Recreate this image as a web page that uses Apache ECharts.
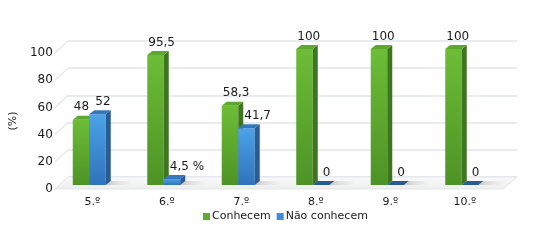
<!DOCTYPE html>
<html>
<head>
<meta charset="utf-8">
<script src="https://cdn.jsdelivr.net/npm/echarts@6/dist/echarts.min.js"></script>
<style>
  html, body { margin: 0; padding: 0; background: #fff; }
  #chart { width: 533px; height: 243px; }
</style>
</head>
<body>
<div id="chart"></div>
<script>
const categories = ["5.º", "6.º", "7.º", "8.º", "9.º", "10.º"];
const conhecem = [48, 95.5, 58.3, 100, 100, 100];
const naoConhecem = [52, 4.5, 41.7, 0, 0, 0];
const conhecemLabels = ["48", "95,5", "58,3", "100", "100", "100"];
const naoLabels = ["52", "4,5 %", "41,7", "0", "0", "0"];
const yTicks = [0, 20, 40, 60, 80, 100];

const FONT = '"DejaVu Sans", Verdana, sans-serif';
const BAR_W = 16.5;
const DX = 5, DY = 4;        // bar depth
const WDX = 13, WDY = 12;    // wall / floor depth

const green = {
    front: ["#6dbd36", "#4d9326"],
    side: "#3e7520",
    top: "#5ea82f",
    legend: "#5cae2c"
};
const blue = {
    front: ["#4ca2e8", "#2f73bb"],
    side: "#2a5c93",
    top: "#3577bd",
    legend: "#3f8edb"
};

function barRenderer(pal, left, labels, labelDx) {
    return function (params, api) {
        const i = api.value(0);
        const v = api.value(1);
        const base = api.coord([i, 0]);
        const top = api.coord([i, v]);
        const x = left ? base[0] - BAR_W : base[0];
        const yb = base[1];
        const yt = top[1];
        const flat = yb - yt <= 0.5;
        const children = [];

        // soft floor shadow
        children.push({
            type: "polygon",
            shape: { points: [[x + 2, yb], [x + BAR_W + DX + 18, yb], [x + BAR_W + DX + 22, yb - DY], [x + DX + 2, yb - DY]] },
            style: {
                fill: new echarts.graphic.LinearGradient(0, 0, 1, 0, [
                    { offset: 0, color: "rgba(110,110,110,0.5)" },
                    { offset: 1, color: "rgba(160,160,160,0)" }
                ])
            },
            z2: 0
        });

        if (!flat) {
            children.push({
                type: "rect",
                shape: { x: x, y: yt, width: BAR_W, height: yb - yt },
                style: {
                    fill: new echarts.graphic.LinearGradient(0, 0, 0, 1, [
                        { offset: 0, color: pal.front[0] },
                        { offset: 1, color: pal.front[1] }
                    ])
                },
                z2: 2
            });
            children.push({
                type: "polygon",
                shape: { points: [[x + BAR_W, yt], [x + BAR_W + DX, yt - DY], [x + BAR_W + DX, yb - DY], [x + BAR_W, yb]] },
                style: { fill: pal.side },
                z2: 2
            });
        }
        children.push({
            type: "polygon",
            shape: { points: [[x, yt], [x + DX, yt - DY], [x + BAR_W + DX, yt - DY], [x + BAR_W, yt]] },
            style: { fill: flat ? pal.side : pal.top },
            z2: 3
        });
        children.push({
            type: "text",
            style: {
                text: labels[params.dataIndex],
                x: x + labelDx + (flat ? 4 : 0),
                y: yt - 12.5,
                fill: "#1a1a1a",
                font: "12px " + FONT,
                align: "left",
                verticalAlign: "middle"
            },
            z2: 4
        });
        return { type: "group", children: children };
    };
}

const chart = echarts.init(document.getElementById("chart"));

chart.setOption({
    backgroundColor: "#fff",
    animation: false,
    textStyle: { fontFamily: FONT },

    grid: [
        { left: 52, right: 34, top: 49, bottom: 58 },   // bars
        { left: 52, right: 34, top: 53, bottom: 54 },   // front axis labels
        { left: 68, right: 16, top: 41, bottom: 66 }    // back wall
    ],

    legend: {
        left: 203,
        top: 211,
        padding: 0,
        itemWidth: 7,
        itemHeight: 7,
        itemGap: 6,
        textStyle: { fontSize: 11, color: "#1a1a1a", fontFamily: FONT, padding: [0, 0, 0, -3] },
        data: [
            { name: "Conhecem", icon: "rect", itemStyle: { color: green.legend } },
            { name: "Não conhecem", icon: "rect", itemStyle: { color: blue.legend } }
        ]
    },

    xAxis: [
        {
            gridIndex: 0,
            type: "category",
            data: categories,
            axisLine: { show: false },
            axisTick: { show: false },
            axisLabel: { fontSize: 11, color: "#1a1a1a", margin: 12, padding: [0, 0, 0, 6] }
        },
        { gridIndex: 1, type: "value", min: 0, max: 1, show: false },
        { gridIndex: 2, type: "value", min: 0, max: 1, show: false }
    ],

    yAxis: [
        { gridIndex: 0, type: "value", min: 0, max: 100, interval: 20, show: false },
        {
            gridIndex: 1,
            type: "value",
            min: 0,
            max: 100,
            interval: 20,
            name: "(%)",
            nameLocation: "middle",
            nameGap: 37,
            nameTextStyle: { fontSize: 11, color: "#1a1a1a" },
            axisLine: { show: false },
            axisTick: { show: false },
            splitLine: { show: false },
            axisLabel: { fontSize: 12, color: "#1a1a1a", margin: 8 }
        },
        {
            gridIndex: 2,
            type: "value",
            min: 0,
            max: 100,
            interval: 20,
            axisLine: { show: false },
            axisTick: { show: false },
            axisLabel: { show: false },
            splitLine: { lineStyle: { color: "#e1e5eb", width: 1.5 } }
        }
    ],

    series: [
        // floor
        {
            type: "custom",
            xAxisIndex: 2,
            yAxisIndex: 2,
            silent: true,
            z: 0,
            data: [0],
            renderItem: function (params, api) {
                const bl = api.coord([0, 0]);
                const br = api.coord([1, 0]);
                return {
                    type: "polygon",
                    shape: { points: [bl, br, [br[0] - WDX - 1, br[1] + WDY], [bl[0] - WDX, bl[1] + WDY]] },
                    style: {
                        fill: new echarts.graphic.LinearGradient(0, 0, 0, 1, [
                            { offset: 0, color: "#fafafa" },
                            { offset: 1, color: "#eeeeee" }
                        ]),
                        stroke: "#e2e5e9",
                        lineWidth: 1
                    }
                };
            }
        },
        // slanted wall lines
        {
            type: "custom",
            xAxisIndex: 2,
            yAxisIndex: 2,
            silent: true,
            z: 1,
            data: yTicks.slice(1),
            renderItem: function (params, api) {
                const p = api.coord([0, api.value(0)]);
                return {
                    type: "line",
                    shape: { x1: p[0], y1: p[1], x2: p[0] - WDX, y2: p[1] + WDY },
                    style: { stroke: "#e6e9ee", lineWidth: 1.5 }
                };
            }
        },
        {
            name: "Conhecem",
            type: "custom",
            xAxisIndex: 0,
            yAxisIndex: 0,
            z: 3,
            itemStyle: { color: green.legend },
            data: conhecem.map((v, i) => [i, v]),
            encode: { x: 0, y: 1 },
            renderItem: barRenderer(green, true, conhecemLabels, 1)
        },
        {
            name: "Não conhecem",
            type: "custom",
            xAxisIndex: 0,
            yAxisIndex: 0,
            z: 4,
            itemStyle: { color: blue.legend },
            data: naoConhecem.map((v, i) => [i, v]),
            encode: { x: 0, y: 1 },
            renderItem: barRenderer(blue, false, naoLabels, 6)
        }
    ]
});
</script>
</body>
</html>
